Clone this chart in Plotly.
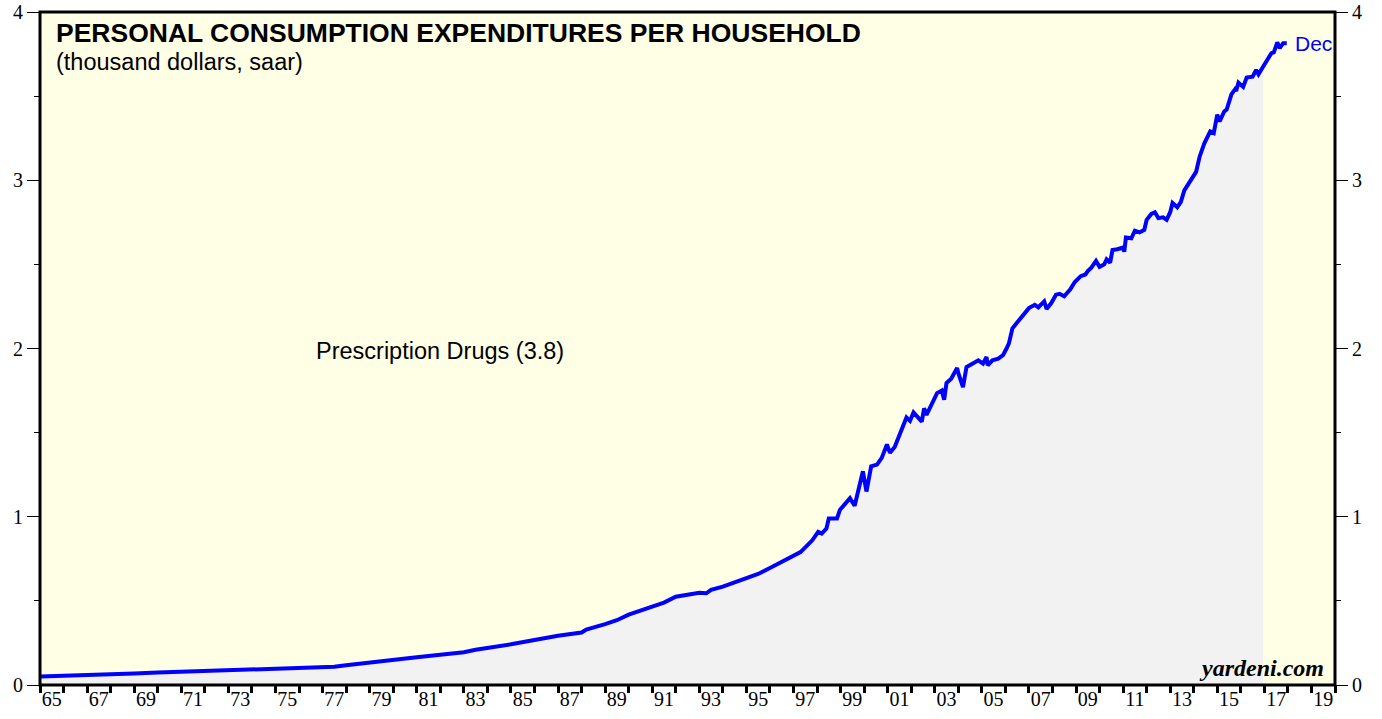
import plotly.graph_objects as go

# prescription drugs spending per household, thousand dollars
years = [1965.0, 1966.0, 1967.0, 1968.0, 1969.0, 1970.0, 1971.0, 1972.0, 1973.0, 1974.0,
         1975.0, 1976.0, 1977.0, 1977.5, 1978.0, 1979.0, 1980.0, 1981.0, 1982.0, 1983.0,
         1983.5, 1984.0, 1985.0, 1986.0, 1987.0, 1988.0, 1988.2, 1989.0, 1989.5, 1990.0,
         1990.5, 1991.0, 1991.5, 1992.0, 1992.5, 1993.0, 1993.3, 1993.5, 1994.0, 1994.5,
         1995.0, 1995.5, 1996.0, 1996.4, 1996.85, 1997.3, 1997.8, 1998.05, 1998.2, 1998.4,
         1998.5, 1998.85, 1998.97, 1999.2, 1999.4, 1999.6, 1999.75, 1999.95, 2000.1, 2000.3,
         2000.55, 2000.75, 2000.97, 2001.1, 2001.3, 2001.45, 2001.65, 2001.8, 2001.95, 2002.1,
         2002.45, 2002.55, 2002.65, 2002.9, 2003.1, 2003.3, 2003.4, 2003.5, 2003.7, 2003.95,
         2004.0, 2004.2, 2004.35, 2004.6, 2004.85, 2005.05, 2005.2, 2005.25, 2005.45, 2005.7,
         2005.9, 2006.05, 2006.15, 2006.3, 2006.6, 2006.8, 2007.0, 2007.25, 2007.4, 2007.65,
         2007.75, 2007.95, 2008.15, 2008.3, 2008.5, 2008.75, 2008.95, 2009.2, 2009.4, 2009.5,
         2009.65, 2009.85, 2010.0, 2010.2, 2010.3, 2010.45, 2010.55, 2010.75, 2011.0, 2011.05,
         2011.12, 2011.35, 2011.5, 2011.7, 2011.9, 2012.0, 2012.2, 2012.35, 2012.5, 2012.7,
         2012.85, 2013.0, 2013.1, 2013.3, 2013.45, 2013.6, 2013.85, 2014.1, 2014.25, 2014.45,
         2014.7, 2014.85, 2015.0, 2015.1, 2015.3, 2015.4, 2015.6, 2015.75, 2015.8, 2015.9,
         2016.1, 2016.25, 2016.5, 2016.65, 2016.75, 2016.95, 2017.15, 2017.3, 2017.4, 2017.55,
         2017.65, 2017.8, 2017.95]
drugs = [0.050, 0.053, 0.057, 0.062, 0.068, 0.074, 0.079, 0.082, 0.086, 0.090,
         0.094, 0.099, 0.105, 0.108, 0.118, 0.135, 0.150, 0.165, 0.180, 0.195,
         0.210, 0.220, 0.242, 0.268, 0.293, 0.312, 0.330, 0.362, 0.385, 0.418,
         0.440, 0.465, 0.490, 0.525, 0.535, 0.548, 0.545, 0.565, 0.585, 0.612,
         0.635, 0.660, 0.695, 0.725, 0.760, 0.790, 0.860, 0.910, 0.900, 0.930,
         0.990, 0.990, 1.040, 1.075, 1.110, 1.065, 1.150, 1.270, 1.150, 1.300,
         1.310, 1.350, 1.430, 1.380, 1.415, 1.470, 1.545, 1.590, 1.570, 1.620,
         1.565, 1.645, 1.605, 1.680, 1.735, 1.750, 1.695, 1.795, 1.820, 1.885,
         1.855, 1.770, 1.890, 1.910, 1.930, 1.910, 1.950, 1.900, 1.930, 1.940,
         1.960, 2.000, 2.030, 2.120, 2.170, 2.200, 2.240, 2.260, 2.245, 2.280,
         2.235, 2.270, 2.320, 2.325, 2.310, 2.350, 2.395, 2.430, 2.440, 2.460,
         2.480, 2.520, 2.485, 2.500, 2.530, 2.510, 2.585, 2.590, 2.600, 2.575,
         2.660, 2.655, 2.700, 2.690, 2.705, 2.765, 2.800, 2.810, 2.775, 2.780,
         2.765, 2.810, 2.865, 2.840, 2.870, 2.940, 3.000, 3.050, 3.140, 3.220,
         3.290, 3.280, 3.390, 3.350, 3.410, 3.420, 3.510, 3.540, 3.530, 3.580,
         3.555, 3.610, 3.615, 3.655, 3.630, 3.675, 3.715, 3.755, 3.760, 3.820,
         3.785, 3.815, 3.815]

shade_end = 2017.0
label_years = list(range(1965, 2020, 2))
year_labels = ["%02d" % (y % 100) for y in label_years]
y_ticks = [0, 1, 2, 3, 4]

serif = "Liberation Serif, Times New Roman, serif"
sans = "Liberation Sans, Arial, sans-serif"

fig = go.Figure()

shade_x = [x for x in years if x <= shade_end]
shade_y = drugs[:len(shade_x)]
fig.add_trace(go.Scatter(x=shade_x, y=shade_y, mode="lines", fill="tozeroy",
                         fillcolor="#f2f2f2", line=dict(width=0, color="#f2f2f2"),
                         hoverinfo="skip", showlegend=False))
fig.add_trace(go.Scatter(x=years, y=drugs, mode="lines",
                         line=dict(color="#0000ff", width=4), showlegend=False))
# dummy trace so the right-hand axis is drawn
fig.add_trace(go.Scatter(x=[years[0]], y=[drugs[0]], yaxis="y2", mode="lines",
                         line=dict(width=0), hoverinfo="skip", showlegend=False))

tick_font = dict(family=serif, size=20, color="black")

fig.update_layout(
    width=1382, height=719,
    margin=dict(l=40, r=47, t=12, b=34, autoexpand=False),
    paper_bgcolor="white",
    plot_bgcolor="#ffffe6",
    xaxis=dict(range=[1965, 2020], showgrid=False, zeroline=False, automargin=False,
               tickmode="array", tickvals=[y + 0.5 for y in label_years],
               ticktext=year_labels, ticks="", tickfont=tick_font,
               minor=dict(tickmode="array", tickvals=list(range(1965, 2021)),
                          ticks="outside", ticklen=7, tickwidth=2.5, tickcolor="black",
                          showgrid=False)),
    yaxis=dict(range=[0, 4], showgrid=False, zeroline=False, automargin=False,
               tickvals=y_ticks, ticks="outside", ticklen=12, tickwidth=1.2,
               tickcolor="black", tickfont=tick_font,
               minor=dict(dtick=0.5, ticks="outside", ticklen=5, tickwidth=1.2,
                          tickcolor="black", showgrid=False)),
    yaxis2=dict(range=[0, 4], overlaying="y", side="right", showgrid=False,
                zeroline=False, automargin=False, tickvals=y_ticks, ticks="outside",
                ticklen=12, tickwidth=1.2, tickcolor="black", tickfont=tick_font,
                minor=dict(dtick=0.5, ticks="outside", ticklen=5, tickwidth=1.2,
                           tickcolor="black", showgrid=False)),
    shapes=[dict(type="rect", xref="paper", yref="paper", x0=0, x1=1, y0=0, y1=1,
                 line=dict(color="black", width=3), layer="above")],
)

fig.add_annotation(text="<b>PERSONAL CONSUMPTION EXPENDITURES PER HOUSEHOLD</b>",
                   xref="paper", yref="paper", x=0.0105, y=0.969,
                   xanchor="left", yanchor="middle", showarrow=False,
                   font=dict(family=sans, size=26.5, color="black"))
fig.add_annotation(text="(thousand dollars, saar)",
                   xref="paper", yref="paper", x=0.0105, y=0.925,
                   xanchor="left", yanchor="middle", showarrow=False,
                   font=dict(family=sans, size=23.5, color="black"))
fig.add_annotation(text="Prescription Drugs (3.8)",
                   xref="paper", yref="paper", x=0.2115, y=0.496,
                   xanchor="left", yanchor="middle", showarrow=False,
                   font=dict(family=sans, size=23.5, color="black"))
fig.add_annotation(text="Dec", x=years[-1], y=drugs[-1], xshift=6,
                   xanchor="left", yanchor="middle", showarrow=False,
                   font=dict(family=sans, size=21, color="#0000ff"))
fig.add_annotation(text="<b><i>yardeni.com</i></b>",
                   xref="paper", yref="paper", x=0.993, y=0.025,
                   xanchor="right", yanchor="middle", showarrow=False,
                   font=dict(family=serif, size=24, color="black"))

fig.write_html("out.html", config={"displayModeBar": False},
               post_script="document.body.style.margin='0px';")
